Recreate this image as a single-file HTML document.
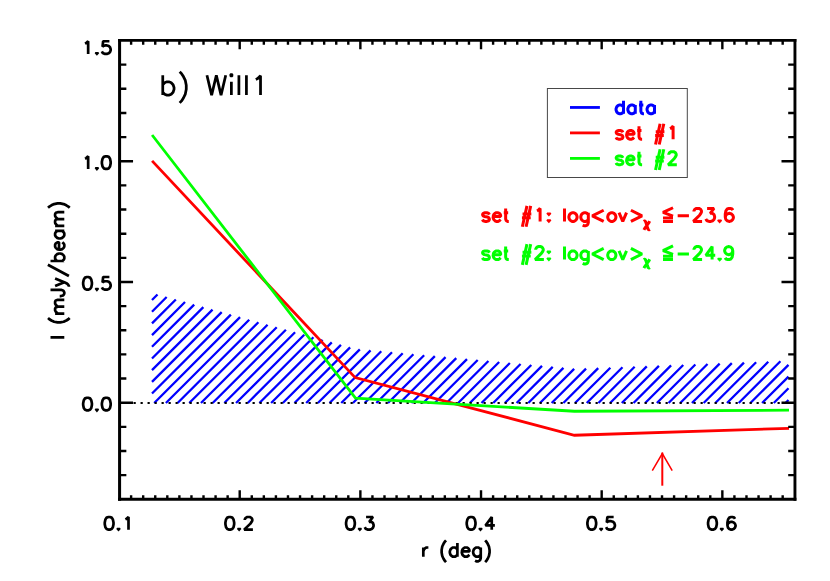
<!DOCTYPE html>
<html><head><meta charset="utf-8"><title>Will1 radial profile</title>
<style>html,body{margin:0;padding:0;background:#fff;font-family:"Liberation Sans",sans-serif}svg{display:block}</style></head>
<body>
<svg width="830" height="581" viewBox="0 0 830 581" role="img" aria-label="b) Will1 radial intensity profile">
<desc>b) Will1. x axis: r (deg) 0.1 0.2 0.3 0.4 0.5 0.6. y axis: I (mJy/beam) 0.0 0.5 1.0 1.5. Legend: data, set #1, set #2. set #1: log&lt;ov&gt;&#967; &#8806;&#8722;23.6. set #2: log&lt;ov&gt;&#967; &#8806;&#8722;24.9</desc>
<rect width="830" height="581" fill="#fff"/>
<path d="M152 300L157.49 294.51M152 311.69L166.66 297.03M152 323.38L175.84 299.54M152 335.07L185.01 302.06M152 346.76L194.18 304.58M152 358.45L203.35 307.1M152 370.14L212.53 309.61M152 381.83L221.7 312.13M152 393.52L230.87 314.65M154.21 403L240.04 317.17M165.9 403L249.21 319.69M177.59 403L258.39 322.2M189.28 403L267.56 324.72M200.97 403L276.73 327.24M212.66 403L285.9 329.76M224.35 403L295.07 332.28M236.04 403L304.25 334.79M247.73 403L313.42 337.31M259.42 403L322.59 339.83M271.11 403L331.76 342.35M282.8 403L340.94 344.86M294.49 403L350.11 347.38M306.18 403L359.83 349.35M317.87 403L370.55 350.32M329.56 403L381.26 351.3M341.25 403L391.98 352.27M352.94 403L402.7 353.25M364.63 403L413.41 354.22M376.32 403L424.13 355.19M388.01 403L434.84 356.17M399.7 403L445.56 357.14M411.39 403L456.27 358.12M423.08 403L466.99 359.09M434.77 403L477.71 360.06M446.46 403L488.42 361.04M458.15 403L499.14 362.01M469.84 403L509.85 362.99M481.53 403L520.57 363.96M493.22 403L531.29 364.94M504.91 403L542 365.91M516.6 403L552.72 366.88M528.29 403L563.43 367.86M539.98 403L574.15 368.83M551.67 403L586.05 368.62M563.36 403L598.2 368.16M575.05 403L610.34 367.71M586.74 403L622.49 367.25M598.43 403L634.64 366.79M610.12 403L646.78 366.34M621.81 403L658.93 365.88M633.5 403L671.08 365.42M645.19 403L683.23 364.96M656.88 403L695.37 364.51M668.57 403L707.52 364.05M680.26 403L719.67 363.59M691.95 403L731.82 363.13M703.64 403L743.96 362.68M715.33 403L756.11 362.22M727.02 403L768.26 361.76M738.71 403L780.41 361.3M750.4 403L788.5 364.9M762.09 403L788.5 376.59M773.78 403L788.5 388.28M785.47 403L788.5 399.97" stroke="#0000ff" stroke-width="2.3" fill="none"/>
<path d="M119.55 403H795" stroke="#000" stroke-width="2.2" stroke-dasharray="2.2 4.8" stroke-dashoffset="0" fill="none"/>
<path d="M152.1 160.9L355.15 377.6L574.4 435.25L789 428.3" stroke="#ff0000" stroke-width="2.8" fill="none" stroke-linejoin="miter"/>
<path d="M152.1 135L355.5 398.1L574.4 411.25L789 410.2" stroke="#00ff00" stroke-width="2.8" fill="none" stroke-linejoin="miter"/>
<path d="M662.3 485.7V452.6" stroke="#ff0000" stroke-width="2" fill="none"/>
<path d="M652.3 470.6L662.3 453.5L672.2 470.6" stroke="#ff0000" stroke-width="1.5" fill="none" stroke-linejoin="miter"/>
<path d="M118.07 40.3H796.4" stroke="#000" stroke-width="2.8" fill="none"/>
<path d="M118.07 499.3H796.4" stroke="#000" stroke-width="2.95" fill="none"/>
<path d="M119.58 38.9V500.75" stroke="#000" stroke-width="3.02" fill="none"/>
<path d="M794.95 38.9V500.75" stroke="#000" stroke-width="2.9" fill="none"/>
<path d="M131.12 499.3v-4.1M131.12 40.3v4.4M143.18 499.3v-4.1M143.18 40.3v4.4M155.25 499.3v-4.1M155.25 40.3v4.4M167.31 499.3v-4.1M167.31 40.3v4.4M179.38 499.3v-4.1M179.38 40.3v4.4M191.45 499.3v-4.1M191.45 40.3v4.4M203.51 499.3v-4.1M203.51 40.3v4.4M215.58 499.3v-4.1M215.58 40.3v4.4M227.64 499.3v-4.1M227.64 40.3v4.4M239.71 499.3v-9M239.71 40.3v9M251.78 499.3v-4.1M251.78 40.3v4.4M263.84 499.3v-4.1M263.84 40.3v4.4M275.91 499.3v-4.1M275.91 40.3v4.4M287.97 499.3v-4.1M287.97 40.3v4.4M300.04 499.3v-4.1M300.04 40.3v4.4M312.11 499.3v-4.1M312.11 40.3v4.4M324.17 499.3v-4.1M324.17 40.3v4.4M336.24 499.3v-4.1M336.24 40.3v4.4M348.3 499.3v-4.1M348.3 40.3v4.4M360.37 499.3v-9M360.37 40.3v9M372.44 499.3v-4.1M372.44 40.3v4.4M384.5 499.3v-4.1M384.5 40.3v4.4M396.57 499.3v-4.1M396.57 40.3v4.4M408.63 499.3v-4.1M408.63 40.3v4.4M420.7 499.3v-4.1M420.7 40.3v4.4M432.77 499.3v-4.1M432.77 40.3v4.4M444.83 499.3v-4.1M444.83 40.3v4.4M456.9 499.3v-4.1M456.9 40.3v4.4M468.96 499.3v-4.1M468.96 40.3v4.4M481.03 499.3v-9M481.03 40.3v9M493.1 499.3v-4.1M493.1 40.3v4.4M505.16 499.3v-4.1M505.16 40.3v4.4M517.23 499.3v-4.1M517.23 40.3v4.4M529.29 499.3v-4.1M529.29 40.3v4.4M541.36 499.3v-4.1M541.36 40.3v4.4M553.43 499.3v-4.1M553.43 40.3v4.4M565.49 499.3v-4.1M565.49 40.3v4.4M577.56 499.3v-4.1M577.56 40.3v4.4M589.62 499.3v-4.1M589.62 40.3v4.4M601.69 499.3v-9M601.69 40.3v9M613.76 499.3v-4.1M613.76 40.3v4.4M625.82 499.3v-4.1M625.82 40.3v4.4M637.89 499.3v-4.1M637.89 40.3v4.4M649.95 499.3v-4.1M649.95 40.3v4.4M662.02 499.3v-4.1M662.02 40.3v4.4M674.09 499.3v-4.1M674.09 40.3v4.4M686.15 499.3v-4.1M686.15 40.3v4.4M698.22 499.3v-4.1M698.22 40.3v4.4M710.28 499.3v-4.1M710.28 40.3v4.4M722.35 499.3v-9M722.35 40.3v9M734.42 499.3v-4.1M734.42 40.3v4.4M746.48 499.3v-4.1M746.48 40.3v4.4M758.55 499.3v-4.1M758.55 40.3v4.4M770.61 499.3v-4.1M770.61 40.3v4.4M782.68 499.3v-4.1M782.68 40.3v4.4M119.55 475.15h6.8M795 475.15h-6.8M119.55 451.01h6.8M795 451.01h-6.8M119.55 426.86h6.8M795 426.86h-6.8M119.55 402.71h13.5M795 402.71h-13.5M119.55 378.56h6.8M795 378.56h-6.8M119.55 354.42h6.8M795 354.42h-6.8M119.55 330.27h6.8M795 330.27h-6.8M119.55 306.12h6.8M795 306.12h-6.8M119.55 281.97h13.5M795 281.97h-13.5M119.55 257.83h6.8M795 257.83h-6.8M119.55 233.68h6.8M795 233.68h-6.8M119.55 209.53h6.8M795 209.53h-6.8M119.55 185.38h6.8M795 185.38h-6.8M119.55 161.24h13.5M795 161.24h-13.5M119.55 137.09h6.8M795 137.09h-6.8M119.55 112.94h6.8M795 112.94h-6.8M119.55 88.79h6.8M795 88.79h-6.8M119.55 64.65h6.8M795 64.65h-6.8" stroke="#000" stroke-width="2.4" fill="none"/>
<path transform="translate(118.5 529.65) translate(-15.62 0)" d="M1.88 -7.23L2.5 -10.24L3.75 -12.05L5.62 -12.65L6.88 -12.65L8.75 -12.05L10 -10.24L10.62 -7.23L10.62 -5.42L10 -2.41L8.75 -0.6L6.88 0L5.62 0L3.75 -0.6L2.5 -2.41L1.88 -5.42ZM22.5 -10.24L23.75 -10.85L25.62 -12.65L25.62 0" fill="none" stroke="#000" stroke-width="2.7" stroke-linejoin="bevel" /><path transform="translate(118.5 529.65) translate(-15.62 0)" d="M14.12 -1.83L17.12 -1.83L17.88 -0.59L15.62 1.97L13.38 -0.59Z" fill="#000"/>
<path transform="translate(239.16 529.65) translate(-15.62 0)" d="M1.88 -7.23L2.5 -10.24L3.75 -12.05L5.62 -12.65L6.88 -12.65L8.75 -12.05L10 -10.24L10.62 -7.23L10.62 -5.42L10 -2.41L8.75 -0.6L6.88 0L5.62 0L3.75 -0.6L2.5 -2.41L1.88 -5.42ZM21.25 -9.64L21.25 -10.24L21.88 -11.45L22.5 -12.05L23.75 -12.65L26.25 -12.65L27.5 -12.05L28.12 -11.45L28.75 -10.24L28.75 -9.04L28.12 -7.83L26.88 -6.03L20.62 0L29.38 0" fill="none" stroke="#000" stroke-width="2.7" stroke-linejoin="bevel" /><path transform="translate(239.16 529.65) translate(-15.62 0)" d="M14.12 -1.83L17.12 -1.83L17.88 -0.59L15.62 1.97L13.38 -0.59Z" fill="#000"/>
<path transform="translate(359.82 529.65) translate(-15.62 0)" d="M1.88 -7.23L2.5 -10.24L3.75 -12.05L5.62 -12.65L6.88 -12.65L8.75 -12.05L10 -10.24L10.62 -7.23L10.62 -5.42L10 -2.41L8.75 -0.6L6.88 0L5.62 0L3.75 -0.6L2.5 -2.41L1.88 -5.42ZM20.62 -2.41L21.25 -1.21L21.88 -0.6L23.75 0L25.62 0L27.5 -0.6L28.75 -1.81L29.38 -3.62L29.38 -4.82L28.75 -6.63L28.12 -7.23L26.88 -7.83L25 -7.83L28.75 -12.65L21.88 -12.65" fill="none" stroke="#000" stroke-width="2.7" stroke-linejoin="bevel" /><path transform="translate(359.82 529.65) translate(-15.62 0)" d="M14.12 -1.83L17.12 -1.83L17.88 -0.59L15.62 1.97L13.38 -0.59Z" fill="#000"/>
<path transform="translate(480.48 529.65) translate(-15.62 0)" d="M1.88 -7.23L2.5 -10.24L3.75 -12.05L5.62 -12.65L6.88 -12.65L8.75 -12.05L10 -10.24L10.62 -7.23L10.62 -5.42L10 -2.41L8.75 -0.6L6.88 0L5.62 0L3.75 -0.6L2.5 -2.41L1.88 -5.42ZM26.88 0L26.88 -12.65L20.62 -4.22L30 -4.22" fill="none" stroke="#000" stroke-width="2.7" stroke-linejoin="bevel" /><path transform="translate(480.48 529.65) translate(-15.62 0)" d="M14.12 -1.83L17.12 -1.83L17.88 -0.59L15.62 1.97L13.38 -0.59Z" fill="#000"/>
<path transform="translate(601.14 529.65) translate(-15.62 0)" d="M1.88 -7.23L2.5 -10.24L3.75 -12.05L5.62 -12.65L6.88 -12.65L8.75 -12.05L10 -10.24L10.62 -7.23L10.62 -5.42L10 -2.41L8.75 -0.6L6.88 0L5.62 0L3.75 -0.6L2.5 -2.41L1.88 -5.42ZM20.62 -2.41L21.25 -1.21L21.88 -0.6L23.75 0L25.62 0L27.5 -0.6L28.75 -1.81L29.38 -3.62L29.38 -4.82L28.75 -6.63L27.5 -7.83L25.62 -8.44L23.75 -8.44L21.88 -7.83L21.25 -7.23L21.88 -12.65L28.12 -12.65" fill="none" stroke="#000" stroke-width="2.7" stroke-linejoin="bevel" /><path transform="translate(601.14 529.65) translate(-15.62 0)" d="M14.12 -1.83L17.12 -1.83L17.88 -0.59L15.62 1.97L13.38 -0.59Z" fill="#000"/>
<path transform="translate(721.8 529.65) translate(-15.62 0)" d="M1.88 -7.23L2.5 -10.24L3.75 -12.05L5.62 -12.65L6.88 -12.65L8.75 -12.05L10 -10.24L10.62 -7.23L10.62 -5.42L10 -2.41L8.75 -0.6L6.88 0L5.62 0L3.75 -0.6L2.5 -2.41L1.88 -5.42ZM21.25 -4.22L21.25 -7.23L21.88 -10.24L23.12 -12.05L25 -12.65L26.25 -12.65L28.12 -12.05L28.75 -10.85M21.25 -4.22L21.88 -6.03L23.12 -7.23L25 -7.83L25.62 -7.83L27.5 -7.23L28.75 -6.03L29.38 -4.22L29.38 -3.62L28.75 -1.81L27.5 -0.6L25.62 0L25 0L23.12 -0.6L21.88 -1.81Z" fill="none" stroke="#000" stroke-width="2.7" stroke-linejoin="bevel" /><path transform="translate(721.8 529.65) translate(-15.62 0)" d="M14.12 -1.83L17.12 -1.83L17.88 -0.59L15.62 1.97L13.38 -0.59Z" fill="#000"/>
<path transform="translate(81.28 53.9) translate(0 0)" d="M3.75 -10.24L5 -10.85L6.88 -12.65L6.88 0M20.62 -2.41L21.25 -1.21L21.88 -0.6L23.75 0L25.62 0L27.5 -0.6L28.75 -1.81L29.38 -3.62L29.38 -4.82L28.75 -6.63L27.5 -7.83L25.62 -8.44L23.75 -8.44L21.88 -7.83L21.25 -7.23L21.88 -12.65L28.12 -12.65" fill="none" stroke="#000" stroke-width="2.7" stroke-linejoin="bevel" /><path transform="translate(81.28 53.9) translate(0 0)" d="M14.12 -1.83L17.12 -1.83L17.88 -0.59L15.62 1.97L13.38 -0.59Z" fill="#000"/>
<path transform="translate(81.28 168.94) translate(0 0)" d="M3.75 -10.24L5 -10.85L6.88 -12.65L6.88 0M20.62 -7.23L21.25 -10.24L22.5 -12.05L24.38 -12.65L25.62 -12.65L27.5 -12.05L28.75 -10.24L29.38 -7.23L29.38 -5.42L28.75 -2.41L27.5 -0.6L25.62 0L24.38 0L22.5 -0.6L21.25 -2.41L20.62 -5.42Z" fill="none" stroke="#000" stroke-width="2.7" stroke-linejoin="bevel" /><path transform="translate(81.28 168.94) translate(0 0)" d="M14.12 -1.83L17.12 -1.83L17.88 -0.59L15.62 1.97L13.38 -0.59Z" fill="#000"/>
<path transform="translate(81.28 289.67) translate(0 0)" d="M1.88 -7.23L2.5 -10.24L3.75 -12.05L5.62 -12.65L6.88 -12.65L8.75 -12.05L10 -10.24L10.62 -7.23L10.62 -5.42L10 -2.41L8.75 -0.6L6.88 0L5.62 0L3.75 -0.6L2.5 -2.41L1.88 -5.42ZM20.62 -2.41L21.25 -1.21L21.88 -0.6L23.75 0L25.62 0L27.5 -0.6L28.75 -1.81L29.38 -3.62L29.38 -4.82L28.75 -6.63L27.5 -7.83L25.62 -8.44L23.75 -8.44L21.88 -7.83L21.25 -7.23L21.88 -12.65L28.12 -12.65" fill="none" stroke="#000" stroke-width="2.7" stroke-linejoin="bevel" /><path transform="translate(81.28 289.67) translate(0 0)" d="M14.12 -1.83L17.12 -1.83L17.88 -0.59L15.62 1.97L13.38 -0.59Z" fill="#000"/>
<path transform="translate(81.28 410.41) translate(0 0)" d="M1.88 -7.23L2.5 -10.24L3.75 -12.05L5.62 -12.65L6.88 -12.65L8.75 -12.05L10 -10.24L10.62 -7.23L10.62 -5.42L10 -2.41L8.75 -0.6L6.88 0L5.62 0L3.75 -0.6L2.5 -2.41L1.88 -5.42ZM20.62 -7.23L21.25 -10.24L22.5 -12.05L24.38 -12.65L25.62 -12.65L27.5 -12.05L28.75 -10.24L29.38 -7.23L29.38 -5.42L28.75 -2.41L27.5 -0.6L25.62 0L24.38 0L22.5 -0.6L21.25 -2.41L20.62 -5.42Z" fill="none" stroke="#000" stroke-width="2.7" stroke-linejoin="bevel" /><path transform="translate(81.28 410.41) translate(0 0)" d="M14.12 -1.83L17.12 -1.83L17.88 -0.59L15.62 1.97L13.38 -0.59Z" fill="#000"/>
<path transform="translate(420.8 556.7) translate(0 0)" d="M2.52 -9.2L2.52 0M2.52 -5.26L3.16 -7.23L4.42 -8.54L5.68 -9.2L7.57 -9.2M25.24 -16.26L23.98 -14.91L22.72 -12.88L21.45 -10.17L20.82 -6.79L20.82 -4.08L21.45 -0.7L22.72 2.01L23.98 4.04L25.24 5.39M36.6 -13.8L36.6 0M36.6 -7.23L35.34 -8.54L34.07 -9.2L32.18 -9.2L30.92 -8.54L29.66 -7.23L29.03 -5.26L29.03 -3.94L29.66 -1.97L30.92 -0.66L32.18 0L34.07 0L35.34 -0.66L36.6 -1.97M41.02 -5.26L41.65 -7.23L42.91 -8.54L44.17 -9.2L46.06 -9.2L47.33 -8.54L47.96 -7.88L48.59 -6.57L48.59 -5.26L41.02 -5.26L41.02 -3.94L41.65 -1.97L42.91 -0.66L44.17 0L46.06 0L47.33 -0.66L48.59 -1.97M54.27 3.94L55.53 4.6L57.42 4.6L58.68 3.94L59.31 3.29L59.95 1.31L59.95 -9.2M59.95 -7.23L58.68 -8.54L57.42 -9.2L55.53 -9.2L54.27 -8.54L53 -7.23L52.37 -5.26L52.37 -3.94L53 -1.97L54.27 -0.66L55.53 0L57.42 0L58.68 -0.66L59.95 -1.97M64.36 -16.26L65.62 -14.91L66.89 -12.88L68.15 -10.17L68.78 -6.79L68.78 -4.08L68.15 -0.7L66.89 2.01L65.62 4.04L64.36 5.39" fill="none" stroke="#000" stroke-width="2.7" stroke-linejoin="bevel" />
<path transform="translate(64.3 270.4) rotate(-90) translate(-69.49 0)" d="M2.5 -13.8L2.5 0M21.91 -16.26L20.66 -14.91L19.41 -12.88L18.15 -10.17L17.53 -6.79L17.53 -4.08L18.15 -0.7L19.41 2.01L20.66 4.04L21.91 5.39M26.29 -9.2L26.29 0M26.29 -6.57L28.17 -8.54L29.42 -9.2L31.3 -9.2L32.55 -8.54L33.18 -6.57L33.18 0M33.18 -6.57L35.06 -8.54L36.31 -9.2L38.19 -9.2L39.44 -8.54L40.06 -6.57L40.06 0M43.82 -4.6L43.82 -3.29L44.45 -1.31L45.07 -0.66L46.32 0L47.58 0L48.83 -0.66L49.45 -1.31L50.08 -3.29L50.08 -13.8M53.21 4.6L53.84 4.6L55.09 3.94L56.34 2.63L57.59 0L61.35 -9.2M53.84 -9.2L57.59 0M63.85 4.6L75.12 -16.43M78.88 -13.8L78.88 0M78.88 -7.23L80.13 -8.54L81.38 -9.2L83.26 -9.2L84.51 -8.54L85.76 -7.23L86.39 -5.26L86.39 -3.94L85.76 -1.97L84.51 -0.66L83.26 0L81.38 0L80.13 -0.66L78.88 -1.97M90.14 -5.26L90.77 -7.23L92.02 -8.54L93.27 -9.2L95.15 -9.2L96.4 -8.54L97.03 -7.88L97.66 -6.57L97.66 -5.26L90.14 -5.26L90.14 -3.94L90.77 -1.97L92.02 -0.66L93.27 0L95.15 0L96.4 -0.66L97.66 -1.97M108.92 -9.2L108.92 0M108.92 -7.23L107.67 -8.54L106.42 -9.2L104.54 -9.2L103.29 -8.54L102.04 -7.23L101.41 -5.26L101.41 -3.94L102.04 -1.97L103.29 -0.66L104.54 0L106.42 0L107.67 -0.66L108.92 -1.97M113.93 -9.2L113.93 0M113.93 -6.57L115.81 -8.54L117.06 -9.2L118.94 -9.2L120.19 -8.54L120.82 -6.57L120.82 0M120.82 -6.57L122.7 -8.54L123.95 -9.2L125.83 -9.2L127.08 -8.54L127.7 -6.57L127.7 0M132.09 -16.26L133.34 -14.91L134.59 -12.88L135.84 -10.17L136.47 -6.79L136.47 -4.08L135.84 -0.7L134.59 2.01L133.34 4.04L132.09 5.39" fill="none" stroke="#000" stroke-width="2.7" stroke-linejoin="bevel" />
<path transform="translate(159 95.1) translate(0 0)" d="M3.76 -19.84L3.76 0M3.76 -10.39L5.64 -12.29L7.52 -13.23L10.34 -13.23L12.22 -12.29L14.1 -10.39L15.04 -7.56L15.04 -5.67L14.1 -2.83L12.22 -0.94L10.34 0L7.52 0L5.64 -0.94L3.76 -2.83M20.68 -23.39L22.56 -21.44L24.44 -18.52L26.32 -14.63L27.26 -9.76L27.26 -5.87L26.32 -1L24.44 2.89L22.56 5.81L20.68 7.76M47.94 -19.84L52.64 0L57.34 -19.84L62.04 0L66.74 -19.84M72.38 -13.23L72.38 0M71.44 -19.84L72.38 -20.79L73.32 -19.84L72.38 -18.9ZM79.9 -19.84L79.9 0M87.42 -19.84L87.42 0M96.82 -15.58L98.7 -16.5L101.52 -19.25L101.52 0" fill="none" stroke="#000" stroke-width="2.75" stroke-linejoin="bevel" />
<rect x="547.4" y="88.5" width="139.9" height="89" fill="none" stroke="#484848" stroke-width="1"/>
<path d="M570 107.45H599.9" stroke="#0000ff" stroke-width="2.8" fill="none"/>
<path d="M570 132.9H599.9" stroke="#ff0000" stroke-width="2.8" fill="none"/>
<path d="M570 158.4H599.9" stroke="#00ff00" stroke-width="2.8" fill="none"/>
<path transform="translate(614.2 113.7) translate(0 0)" d="M9.3 -13.02L9.3 0M9.3 -6.82L8.06 -8.06L6.82 -8.68L4.96 -8.68L3.72 -8.06L2.48 -6.82L1.86 -4.96L1.86 -3.72L2.48 -1.86L3.72 -0.62L4.96 0L6.82 0L8.06 -0.62L9.3 -1.86M21.08 -8.68L21.08 0M21.08 -6.82L19.84 -8.06L18.6 -8.68L16.74 -8.68L15.5 -8.06L14.26 -6.82L13.64 -4.96L13.64 -3.72L14.26 -1.86L15.5 -0.62L16.74 0L18.6 0L19.84 -0.62L21.08 -1.86M24.8 -8.68L29.14 -8.68M26.66 -13.02L26.66 -2.48L27.28 -0.62L28.52 0L29.76 0M40.3 -8.68L40.3 0M40.3 -6.82L39.06 -8.06L37.82 -8.68L35.96 -8.68L34.72 -8.06L33.48 -6.82L32.86 -4.96L32.86 -3.72L33.48 -1.86L34.72 -0.62L35.96 0L37.82 0L39.06 -0.62L40.3 -1.86" fill="none" stroke="#0000ff" stroke-width="3" stroke-linejoin="bevel" />
<path transform="translate(614.2 139.2) translate(0 0)" d="M1.86 -1.86L2.48 -0.62L4.34 0L6.2 0L8.06 -0.62L8.68 -1.86L8.68 -2.48L8.06 -3.72L6.82 -4.34L3.72 -4.96L2.48 -5.58L1.86 -6.82L2.48 -8.06L4.34 -8.68L6.2 -8.68L8.06 -8.06L8.68 -6.82M12.4 -4.96L13.02 -6.82L14.26 -8.06L15.5 -8.68L17.36 -8.68L18.6 -8.06L19.22 -7.44L19.84 -6.2L19.84 -4.96L12.4 -4.96L12.4 -3.72L13.02 -1.86L14.26 -0.62L15.5 0L17.36 0L18.6 -0.62L19.84 -1.86M22.94 -8.68L27.28 -8.68M24.8 -13.02L24.8 -2.48L25.42 -0.62L26.66 0L27.9 0M45.88 -15.5L41.32 5.33M49.6 -15.5L45.04 5.33M41.54 -7.44L50.22 -7.44M40.92 -3.72L49.6 -3.72M55.8 -10.54L57.04 -11.16L58.9 -13.02L58.9 0" fill="none" stroke="#ff0000" stroke-width="3" stroke-linejoin="bevel" />
<path transform="translate(614.2 164.7) translate(0 0)" d="M1.86 -1.86L2.48 -0.62L4.34 0L6.2 0L8.06 -0.62L8.68 -1.86L8.68 -2.48L8.06 -3.72L6.82 -4.34L3.72 -4.96L2.48 -5.58L1.86 -6.82L2.48 -8.06L4.34 -8.68L6.2 -8.68L8.06 -8.06L8.68 -6.82M12.4 -4.96L13.02 -6.82L14.26 -8.06L15.5 -8.68L17.36 -8.68L18.6 -8.06L19.22 -7.44L19.84 -6.2L19.84 -4.96L12.4 -4.96L12.4 -3.72L13.02 -1.86L14.26 -0.62L15.5 0L17.36 0L18.6 -0.62L19.84 -1.86M22.94 -8.68L27.28 -8.68M24.8 -13.02L24.8 -2.48L25.42 -0.62L26.66 0L27.9 0M45.88 -15.5L41.32 5.33M49.6 -15.5L45.04 5.33M41.54 -7.44L50.22 -7.44M40.92 -3.72L49.6 -3.72M54.56 -9.92L54.56 -10.54L55.18 -11.78L55.8 -12.4L57.04 -13.02L59.52 -13.02L60.76 -12.4L61.38 -11.78L62 -10.54L62 -9.3L61.38 -8.06L60.14 -6.2L53.94 0L62.62 0" fill="none" stroke="#00ff00" stroke-width="3" stroke-linejoin="bevel" />
<path transform="translate(480.6 221.4) translate(0 0)" d="M1.88 -1.86L2.51 -0.62L4.38 0L6.26 0L8.14 -0.62L8.77 -1.86L8.77 -2.48L8.14 -3.72L6.89 -4.34L3.76 -4.96L2.51 -5.58L1.88 -6.82L2.51 -8.06L4.38 -8.68L6.26 -8.68L8.14 -8.06L8.77 -6.82M12.53 -4.96L13.15 -6.82L14.4 -8.06L15.66 -8.68L17.54 -8.68L18.79 -8.06L19.42 -7.44L20.04 -6.2L20.04 -4.96L12.53 -4.96L12.53 -3.72L13.15 -1.86L14.4 -0.62L15.66 0L17.54 0L18.79 -0.62L20.04 -1.86M23.17 -8.68L27.56 -8.68M25.05 -13.02L25.05 -2.48L25.68 -0.62L26.93 0L28.18 0M46.35 -15.5L41.74 5.33M50.1 -15.5L45.5 5.33M41.96 -7.44L50.73 -7.44M41.34 -3.72L50.1 -3.72M56.37 -10.54L57.62 -11.16L59.5 -13.02L59.5 0M83.92 -13.02L83.92 0M88.31 -4.96L88.93 -6.82L90.19 -8.06L91.44 -8.68L93.32 -8.68L94.57 -8.06L95.82 -6.82L96.45 -4.96L96.45 -3.72L95.82 -1.86L94.57 -0.62L93.32 0L91.44 0L90.19 -0.62L88.93 -1.86L88.31 -3.72ZM102.09 3.72L103.34 4.34L105.22 4.34L106.47 3.72L107.1 3.1L107.72 1.24L107.72 -8.68M107.72 -6.82L106.47 -8.06L105.22 -8.68L103.34 -8.68L102.09 -8.06L100.83 -6.82L100.21 -4.96L100.21 -3.72L100.83 -1.86L102.09 -0.62L103.34 0L105.22 0L106.47 -0.62L107.72 -1.86M123.07 -11.16L111.67 -5.58L123.07 0M127.14 -4.96L127.77 -6.82L129.02 -8.06L130.27 -8.68L132.15 -8.68L133.4 -8.06L134.65 -6.82L135.28 -4.96L135.28 -3.72L134.65 -1.86L133.4 -0.62L132.15 0L130.27 0L129.02 -0.62L127.77 -1.86L127.14 -3.72ZM138.41 -8.68L142.17 0L145.93 -8.68M150.31 -11.16L161.4 -5.58L150.31 0M163.17 0.1L163.78 -0.3L164.39 -0.3L165 0.3L165.41 1.31L167.03 6.75L167.44 7.76L168.05 8.36L168.66 8.36L169.23 7.96M169.07 -0.3L168.46 0.91L163.98 7.15L163.37 8.44M192.43 -13.64L182.41 -8.99L192.43 -5.27M182.41 -3.47L192.43 -3.47M182.41 0L192.43 0M197.07 -5.58L208.34 -5.58M213.35 -9.92L213.35 -10.54L213.98 -11.78L214.6 -12.4L215.85 -13.02L218.36 -13.02L219.61 -12.4L220.24 -11.78L220.86 -10.54L220.86 -9.3L220.24 -8.06L218.99 -6.2L212.72 0L221.49 0M225.25 -2.48L225.88 -1.24L226.5 -0.62L228.38 0L230.26 0L232.14 -0.62L233.39 -1.86L234.02 -3.72L234.02 -4.96L233.39 -6.82L232.76 -7.44L231.51 -8.06L229.63 -8.06L233.39 -13.02L226.5 -13.02M244.66 -4.34L244.66 -7.44L245.29 -10.54L246.54 -12.4L248.42 -13.02L249.67 -13.02L251.55 -12.4L252.18 -11.16M244.66 -4.34L245.29 -6.2L246.54 -7.44L248.42 -8.06L249.05 -8.06L250.93 -7.44L252.18 -6.2L252.81 -4.34L252.81 -3.72L252.18 -1.86L250.93 -0.62L249.05 0L248.42 0L246.54 -0.62L245.29 -1.86Z" fill="none" stroke="#ff0000" stroke-width="3" stroke-linejoin="bevel" /><path transform="translate(480.6 221.4) translate(0 0)" d="M66.58 -2.19L69.95 -2.19L70.79 -0.87L68.27 1.84L65.74 -0.87ZM66.58 -9.01L69.95 -9.01L70.79 -7.69L68.27 -4.98L65.74 -7.69ZM237.34 -1.94L240.71 -1.94L241.55 -0.62L239.03 2.08L236.5 -0.62Z" fill="#ff0000"/>
<path transform="translate(480.6 259.6) translate(0 0)" d="M1.88 -1.86L2.51 -0.62L4.38 0L6.26 0L8.14 -0.62L8.77 -1.86L8.77 -2.48L8.14 -3.72L6.89 -4.34L3.76 -4.96L2.51 -5.58L1.88 -6.82L2.51 -8.06L4.38 -8.68L6.26 -8.68L8.14 -8.06L8.77 -6.82M12.53 -4.96L13.15 -6.82L14.4 -8.06L15.66 -8.68L17.54 -8.68L18.79 -8.06L19.42 -7.44L20.04 -6.2L20.04 -4.96L12.53 -4.96L12.53 -3.72L13.15 -1.86L14.4 -0.62L15.66 0L17.54 0L18.79 -0.62L20.04 -1.86M23.17 -8.68L27.56 -8.68M25.05 -13.02L25.05 -2.48L25.68 -0.62L26.93 0L28.18 0M46.35 -15.5L41.74 5.33M50.1 -15.5L45.5 5.33M41.96 -7.44L50.73 -7.44M41.34 -3.72L50.1 -3.72M55.11 -9.92L55.11 -10.54L55.74 -11.78L56.37 -12.4L57.62 -13.02L60.12 -13.02L61.38 -12.4L62 -11.78L62.63 -10.54L62.63 -9.3L62 -8.06L60.75 -6.2L54.49 0L63.26 0M83.92 -13.02L83.92 0M88.31 -4.96L88.93 -6.82L90.19 -8.06L91.44 -8.68L93.32 -8.68L94.57 -8.06L95.82 -6.82L96.45 -4.96L96.45 -3.72L95.82 -1.86L94.57 -0.62L93.32 0L91.44 0L90.19 -0.62L88.93 -1.86L88.31 -3.72ZM102.09 3.72L103.34 4.34L105.22 4.34L106.47 3.72L107.1 3.1L107.72 1.24L107.72 -8.68M107.72 -6.82L106.47 -8.06L105.22 -8.68L103.34 -8.68L102.09 -8.06L100.83 -6.82L100.21 -4.96L100.21 -3.72L100.83 -1.86L102.09 -0.62L103.34 0L105.22 0L106.47 -0.62L107.72 -1.86M123.07 -11.16L111.67 -5.58L123.07 0M127.14 -4.96L127.77 -6.82L129.02 -8.06L130.27 -8.68L132.15 -8.68L133.4 -8.06L134.65 -6.82L135.28 -4.96L135.28 -3.72L134.65 -1.86L133.4 -0.62L132.15 0L130.27 0L129.02 -0.62L127.77 -1.86L127.14 -3.72ZM138.41 -8.68L142.17 0L145.93 -8.68M150.31 -11.16L161.4 -5.58L150.31 0M163.17 0.1L163.78 -0.3L164.39 -0.3L165 0.3L165.41 1.31L167.03 6.75L167.44 7.76L168.05 8.36L168.66 8.36L169.23 7.96M169.07 -0.3L168.46 0.91L163.98 7.15L163.37 8.44M192.43 -13.64L182.41 -8.99L192.43 -5.27M182.41 -3.47L192.43 -3.47M182.41 0L192.43 0M197.07 -5.58L208.34 -5.58M213.35 -9.92L213.35 -10.54L213.98 -11.78L214.6 -12.4L215.85 -13.02L218.36 -13.02L219.61 -12.4L220.24 -11.78L220.86 -10.54L220.86 -9.3L220.24 -8.06L218.99 -6.2L212.72 0L221.49 0M231.51 0L231.51 -13.02L225.25 -4.34L234.64 -4.34M244.66 -1.86L245.29 -0.62L247.17 0L248.42 0L250.3 -0.62L251.55 -2.48L252.18 -5.58L252.18 -8.68L251.55 -11.16L250.3 -12.4L248.42 -13.02L247.8 -13.02L245.92 -12.4L244.66 -11.16L244.04 -9.3L244.04 -8.68L244.66 -6.82L245.92 -5.58L247.8 -4.96L248.42 -4.96L250.3 -5.58L251.55 -6.82L252.18 -8.68" fill="none" stroke="#00ff00" stroke-width="3" stroke-linejoin="bevel" /><path transform="translate(480.6 259.6) translate(0 0)" d="M66.58 -2.19L69.95 -2.19L70.79 -0.87L68.27 1.84L65.74 -0.87ZM66.58 -9.01L69.95 -9.01L70.79 -7.69L68.27 -4.98L65.74 -7.69ZM237.34 -1.94L240.71 -1.94L241.55 -0.62L239.03 2.08L236.5 -0.62Z" fill="#00ff00"/>
</svg>
</body></html>
